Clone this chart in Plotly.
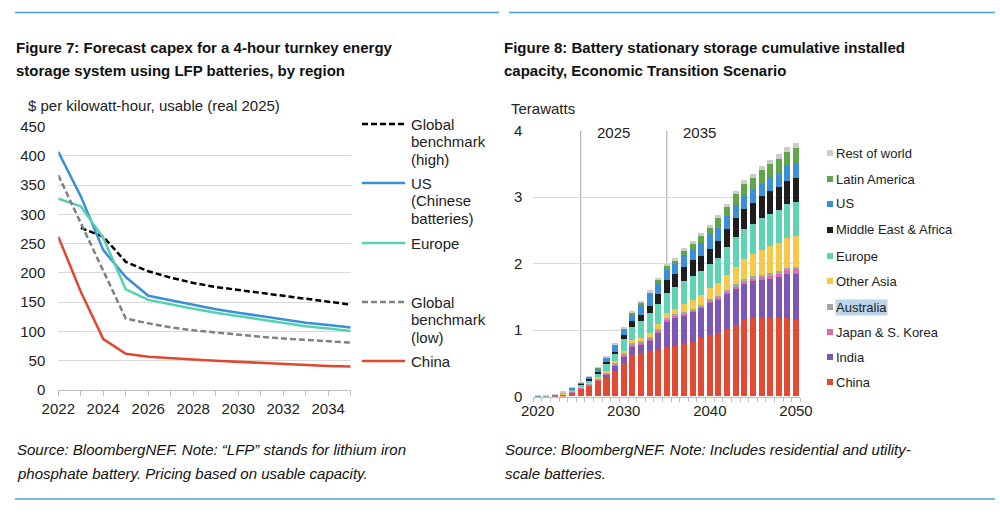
import plotly.graph_objects as go

# ---- Figure 7: capex forecast ($/kWh usable, real 2025) ----
capex_years = list(range(2022, 2036))
global_high = [None, 277, 262, 219, 203, 192, 183, 176, 171, 166, 161, 156, 151, 146]
us_chinese = [407, 331, 239, 193, 161, 153, 145, 138, 132, 126, 120, 115, 111, 107]
europe_capex = [327, 314, 260, 172, 154, 146, 139, 132, 126, 120, 114, 109, 105, 101]
global_low = [367, 285, 203, 122, 114, 107, 102, 98, 95, 91, 88, 86, 83, 81]
china_capex = [262, 168, 87, 62, 57, 54, 52, 50, 48, 46, 44, 43, 41, 40]

# ---- Figure 8: cumulative installed capacity (TW) ----
years = list(range(2020, 2051))
china = [0.004, 0.006, 0.010, 0.030, 0.065, 0.120, 0.165, 0.230, 0.300, 0.390,
         0.510, 0.625, 0.650, 0.685, 0.700, 0.750, 0.765, 0.800, 0.825, 0.875,
         0.930, 0.960, 1.020, 1.080, 1.160, 1.180, 1.180, 1.180, 1.180, 1.180, 1.150]
india = [0.000, 0.000, 0.001, 0.002, 0.004, 0.008, 0.012, 0.020, 0.040, 0.075,
         0.090, 0.125, 0.140, 0.165, 0.275, 0.380, 0.425, 0.420, 0.440, 0.450,
         0.480, 0.490, 0.525, 0.540, 0.530, 0.555, 0.570, 0.590, 0.620, 0.665, 0.700]
japan_korea = [0.002, 0.003, 0.004, 0.005, 0.008, 0.010, 0.012, 0.015, 0.018, 0.020,
               0.030, 0.030, 0.025, 0.025, 0.030, 0.030, 0.030, 0.030, 0.032, 0.034,
               0.036, 0.040, 0.040, 0.045, 0.050, 0.050, 0.055, 0.058, 0.060, 0.065, 0.070]
australia = [0.001, 0.002, 0.003, 0.004, 0.005, 0.006, 0.008, 0.010, 0.012, 0.014,
             0.020, 0.020, 0.015, 0.015, 0.018, 0.020, 0.020, 0.020, 0.020, 0.020,
             0.022, 0.025, 0.025, 0.025, 0.025, 0.025, 0.028, 0.030, 0.030, 0.030, 0.030]
other_asia = [0.000, 0.000, 0.000, 0.002, 0.003, 0.005, 0.008, 0.012, 0.020, 0.035,
              0.040, 0.050, 0.050, 0.060, 0.070, 0.080, 0.080, 0.120, 0.140, 0.150,
              0.170, 0.200, 0.220, 0.260, 0.300, 0.330, 0.370, 0.400, 0.420, 0.450, 0.470]
europe = [0.003, 0.004, 0.008, 0.015, 0.025, 0.030, 0.045, 0.070, 0.110, 0.100,
          0.170, 0.200, 0.260, 0.300, 0.300, 0.300, 0.335, 0.350, 0.360, 0.360,
          0.350, 0.370, 0.420, 0.450, 0.460, 0.460, 0.480, 0.490, 0.500, 0.505, 0.510]
me_africa = [0.000, 0.000, 0.000, 0.001, 0.002, 0.003, 0.006, 0.012, 0.025, 0.035,
             0.060, 0.085, 0.090, 0.110, 0.150, 0.200, 0.185, 0.215, 0.230, 0.225,
             0.225, 0.255, 0.270, 0.280, 0.300, 0.310, 0.330, 0.340, 0.345, 0.350, 0.360]
us = [0.003, 0.004, 0.007, 0.012, 0.025, 0.030, 0.045, 0.060, 0.065, 0.110,
      0.090, 0.110, 0.165, 0.180, 0.165, 0.150, 0.150, 0.170, 0.165, 0.195,
      0.230, 0.200, 0.200, 0.200, 0.200, 0.200, 0.200, 0.210, 0.215, 0.220, 0.220]
latin_america = [0.000, 0.000, 0.000, 0.001, 0.002, 0.003, 0.004, 0.006, 0.008, 0.010,
                 0.015, 0.025, 0.020, 0.035, 0.040, 0.050, 0.050, 0.065, 0.085, 0.100,
                 0.090, 0.140, 0.130, 0.160, 0.180, 0.180, 0.200, 0.200, 0.210, 0.220, 0.230]
rest_of_world = [0.002, 0.002, 0.004, 0.005, 0.006, 0.006, 0.008, 0.010, 0.010, 0.010,
                 0.016, 0.015, 0.015, 0.025, 0.030, 0.040, 0.050, 0.050, 0.050, 0.050,
                 0.050, 0.050, 0.050, 0.055, 0.060, 0.060, 0.060, 0.065, 0.070, 0.075, 0.080]

FONT = "Liberation Sans, Arial, sans-serif"
W, H = 1000, 514


def px(x):
    return x / W


def py(y):
    return 1 - y / H


fig = go.Figure()

# left chart lines
line_specs = [
    ("Global benchmark (high)", global_high, "#000000", "6px,3px"),
    ("US (Chinese batteries)", us_chinese, "#3a8fd6", "solid"),
    ("Europe", europe_capex, "#55d0b0", "solid"),
    ("Global benchmark (low)", global_low, "#808080", "6px,3px"),
    ("China", china_capex, "#e0472f", "solid"),
]
for name, vals, col, dash in line_specs:
    fig.add_trace(go.Scatter(x=capex_years, y=vals, name=name, mode="lines",
                             line=dict(color=col, width=2.5, dash=dash),
                             xaxis="x", yaxis="y", showlegend=False))

# right chart stacked bars
bar_specs = [
    ("China", china, "#e34a33"),
    ("India", india, "#7e57b5"),
    ("Japan & S. Korea", japan_korea, "#e06aa8"),
    ("Australia", australia, "#a6a6a6"),
    ("Other Asia", other_asia, "#f7c948"),
    ("Europe", europe, "#5fd3b3"),
    ("Middle East & Africa", me_africa, "#1e1e1e"),
    ("US", us, "#3a8fd6"),
    ("Latin America", latin_america, "#5fa64b"),
    ("Rest of world", rest_of_world, "#cccccc"),
]
for name, vals, col in bar_specs:
    fig.add_trace(go.Bar(x=years, y=vals, name=name, marker=dict(color=col, line=dict(width=0)),
                         xaxis="x2", yaxis="y2", showlegend=False))

grid = "#d9d9d9"
axis_col = "#bfbfbf"
tick_font = dict(family=FONT, size=15, color="#222222")

fig.update_layout(
    width=W, height=H,
    margin=dict(l=0, r=0, t=0, b=0, pad=0, autoexpand=False),
    showlegend=False,
    paper_bgcolor="white", plot_bgcolor="white",
    barmode="stack", bargap=0.3,
    font=dict(family=FONT, color="#222222"),
    xaxis=dict(domain=[px(58.3), px(350.7)], range=[2022, 2035], dtick=2, tick0=2022,
               showgrid=False, showline=True, linecolor=axis_col, ticks="outside",
               ticklen=5, tickcolor=axis_col,
               minor=dict(dtick=1, ticks="outside", ticklen=5, tickcolor=axis_col),
               tickfont=tick_font, zeroline=False),
    yaxis=dict(domain=[py(390), py(126.7)], range=[0, 450], dtick=50, showgrid=True,
               gridcolor=grid, zeroline=False, showline=False, tickfont=tick_font,
               ticklabelstandoff=12),
    xaxis2=dict(domain=[px(533.3), px(800.3)], range=[2019.5, 2050.5],
                tickvals=[2020, 2030, 2040, 2050], showgrid=False, showline=True,
                linecolor=axis_col, ticks="",
                minor=dict(tick0=2019.5, dtick=1, ticks="outside", ticklen=4, tickcolor=axis_col),
                tickfont=tick_font, zeroline=False, anchor="y2"),
    yaxis2=dict(domain=[py(396.5), py(130.7)], range=[0, 4], dtick=1, showgrid=True,
                gridcolor=grid, zeroline=False, showline=False, tickfont=tick_font,
                anchor="x2", ticklabelstandoff=10),
)

shapes = []
annotations = []

# page rules (with the small break in the top rule)
shapes.append(dict(type="line", xref="paper", yref="paper", x0=px(15), x1=px(499),
                   y0=py(12.5), y1=py(12.5), line=dict(color="#4aa0d6", width=1.5)))
shapes.append(dict(type="line", xref="paper", yref="paper", x0=px(509), x1=px(995),
                   y0=py(12.5), y1=py(12.5), line=dict(color="#4aa0d6", width=1.5)))
shapes.append(dict(type="line", xref="paper", yref="paper", x0=px(15), x1=px(995),
                   y0=py(499), y1=py(499), line=dict(color="#4aa0d6", width=1.5)))

# titles
for txt, x, y in [
    ("Figure 7: Forecast capex for a 4-hour turnkey energy", 14, 47),
    ("storage system using LFP batteries, by region", 14, 71),
    ("Figure 8: Battery stationary storage cumulative installed", 502, 47),
    ("capacity, Economic Transition Scenario", 502, 71),
]:
    annotations.append(dict(text="<b>" + txt + "</b>", x=px(x), y=py(y), xref="paper", yref="paper",
                            xanchor="left", yanchor="middle", showarrow=False,
                            font=dict(family=FONT, size=15, color="#111111")))

# source notes
for txt, x, y in [
    ("Source: BloombergNEF. Note: \u201cLFP\u201d stands for lithium iron", 15, 449),
    ("phosphate battery. Pricing based on usable capacity.", 15, 473),
    ("Source: BloombergNEF. Note: Includes residential and utility-", 503, 449),
    ("scale batteries.", 503, 473),
]:
    annotations.append(dict(text="<i>" + txt + "</i>", x=px(x), y=py(y), xref="paper", yref="paper",
                            xanchor="left", yanchor="middle", showarrow=False,
                            font=dict(family=FONT, size=15, color="#111111")))

# unit labels
annotations.append(dict(text="$ per kilowatt-hour, usable (real 2025)", x=px(26), y=py(106),
                        xref="paper", yref="paper", xanchor="left", yanchor="middle",
                        showarrow=False, font=dict(family=FONT, size=15, color="#222222")))
annotations.append(dict(text="Terawatts", x=px(509), y=py(108), xref="paper", yref="paper",
                        xanchor="left", yanchor="middle", showarrow=False,
                        font=dict(family=FONT, size=15, color="#222222")))

# left legend
legend_left = [
    (line_specs[0], 124, ["Global", "benchmark", "(high)"]),
    (line_specs[1], 183, ["US", "(Chinese", "batteries)"]),
    (line_specs[2], 243, ["Europe"]),
    (line_specs[3], 302, ["Global", "benchmark", "(low)"]),
    (line_specs[4], 361, ["China"]),
]
for (name, _, col, dash), y, lines in legend_left:
    shapes.append(dict(type="line", xref="paper", yref="paper", x0=px(362), x1=px(405),
                       y0=py(y), y1=py(y), line=dict(color=col, width=2.5, dash=dash)))
    for i, ln in enumerate(lines):
        annotations.append(dict(text=ln, x=px(409), y=py(y + i * 17.7), xref="paper", yref="paper",
                                xanchor="left", yanchor="middle", showarrow=False,
                                font=dict(family=FONT, size=15, color="#222222")))

# right legend
legend_right_y = [382, 357, 332, 307, 281, 256, 230, 204, 179, 153]
for (name, _, col), y in zip(bar_specs, legend_right_y):
    shapes.append(dict(type="rect", xref="paper", yref="paper", x0=px(827), x1=px(833),
                       y0=py(y + 3), y1=py(y - 3), fillcolor=col, line=dict(width=0)))
    annotations.append(dict(text=name, x=px(835), y=py(y), xref="paper", yref="paper",
                            xanchor="left", yanchor="middle", showarrow=False,
                            bgcolor="#bcd5ea" if name == "Australia" else None,
                            borderpad=0,
                            font=dict(family=FONT, size=13, color="#222222")))

# forecast markers on right chart
for yr in (2025, 2035):
    shapes.append(dict(type="line", xref="x2", yref="y2", x0=yr, x1=yr, y0=0, y1=4,
                       layer="below", line=dict(color="#a6a6a6", width=1)))
    annotations.append(dict(text=str(yr), x=yr, y=4, xref="x2", yref="y2", xanchor="left",
                            yanchor="middle", xshift=14, yshift=-2, showarrow=False,
                            font=dict(family=FONT, size=15, color="#222222")))

fig.update_layout(shapes=shapes, annotations=annotations)

# drop the browser's default body margin so the figure sits at the page origin
fig.write_html("out.html", config={"displayModeBar": False},
               post_script="document.body.style.margin = '0';")
